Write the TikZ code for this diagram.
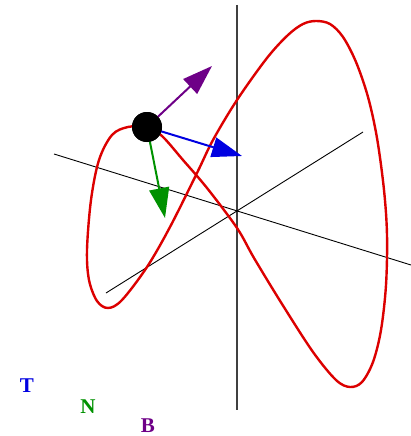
\documentclass[tikz,border=0pt]{standalone}
\usepackage{fontspec}
\setmainfont{Liberation Serif}
\usepackage{tikz}
\usetikzlibrary{arrows.meta}
\definecolor{tblue}{RGB}{0,0,225}
\definecolor{ngreen}{RGB}{0,145,0}
\definecolor{bpurple}{RGB}{110,0,135}
\definecolor{curvered}{RGB}{220,0,0}
\begin{document}
\begin{tikzpicture}[
  x=1pt, y=-1pt,
  axis/.style={black, line width=0.9pt},
  curve/.style={curvered, line width=2.4pt},
  vec/.style={line width=2pt, -{Triangle[length=30pt, width=20pt]}},
  ball/.style={circle, fill=black, minimum size=30pt, inner sep=0pt},
  lbl/.style={font=\fontsize{21}{25}\selectfont\bfseries, inner sep=0pt}
]
  \useasboundingbox (0,0) rectangle (411,436);

  % axes
  \coordinate (zT) at (237,5);
  \coordinate (zB) at (237,410);
  \coordinate (xL) at (54,154);
  \coordinate (xR) at (411,265);
  \coordinate (yL) at (106,293);
  \coordinate (yR) at (363,132);
  \draw[axis, black!75, line width=1.3pt] (zT) -- (zB);
  \draw[axis] (xL) -- (xR);
  \draw[axis] (yL) -- (yR);

  % space curve
  \draw[curve] plot[smooth cycle, tension=0.55] coordinates {
    (147,127) (162,136) (183,160) (207,188) (237,228) (254,258)
    (282,304) (313,352) (336,380) (350,387) (362,382) (373,362)
    (381,330) (386,285) (387,235) (384,190) (377,138) (368,97)
    (356,62) (343,37) (330,24) (316,21) (303,24) (288,35)
    (267,58) (237,100) (213,140) (197,173) (170,227) (147,267)
    (122,300) (108,308) (97,301) (89,280) (87,250) (91,200)
    (99,160) (112,135) (128,127)};

  % frame vectors
  \node[ball] (ball) at (147,127) {};
  \coordinate (tipT) at (242,156);
  \coordinate (tipN) at (165,218);
  \coordinate (tipB) at (212,66);
  \draw[vec, bpurple] (ball.center) -- (tipB);
  \draw[vec, tblue] (ball.center) -- (tipT);
  \draw[vec, ngreen] (ball.center) -- (tipN);
  \node[ball] at (ball.center) {};

  % legend
  \node[lbl, text=tblue] (labT) at (27,386) {T};
  \node[lbl, text=ngreen] (labN) at (88,407) {N};
  \node[lbl, text=bpurple] (labB) at (148,426) {B};
\end{tikzpicture}
\end{document}
